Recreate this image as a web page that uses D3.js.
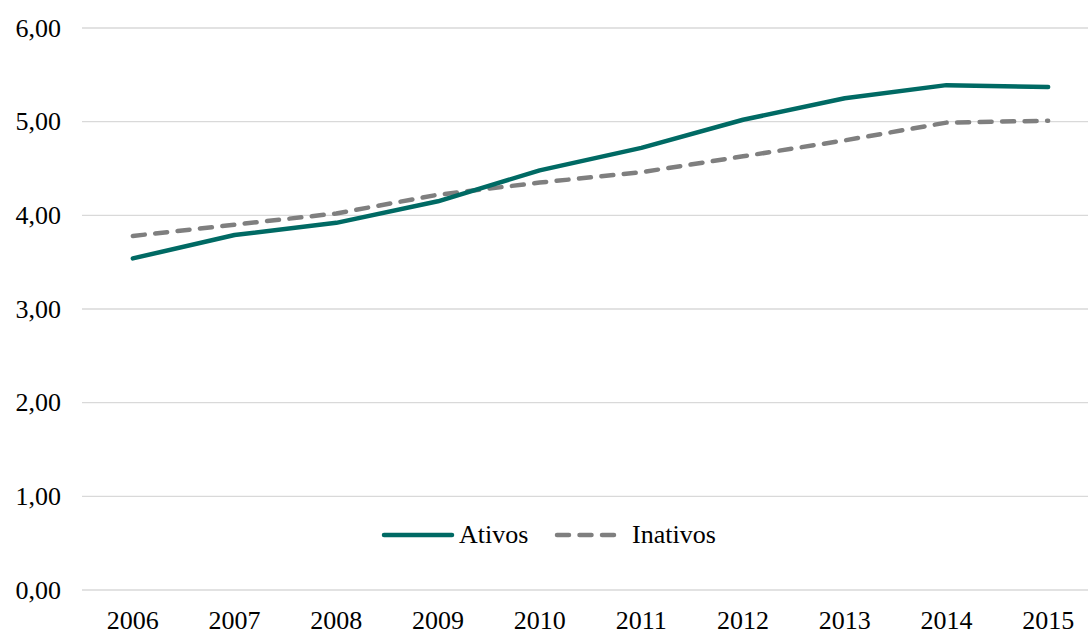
<!DOCTYPE html>
<html>
<head>
<meta charset="utf-8">
<script src="https://cdn.jsdelivr.net/npm/d3@7"></script>
<style>
  html, body { margin: 0; padding: 0; background: #fff; }
  svg { display: block; }
  text { font-family: "Liberation Serif", "Times New Roman", serif; fill: #000; }
</style>
</head>
<body>
<svg id="chart" width="1088" height="631"></svg>
<script>
// Series by year
const years = ["2006","2007","2008","2009","2010","2011","2012","2013","2014","2015"];
const ativos = [3.54, 3.79, 3.92, 4.15, 4.48, 4.72, 5.02, 5.25, 5.39, 5.37];
const inativos = [3.78, 3.90, 4.02, 4.22, 4.35, 4.46, 4.63, 4.80, 4.99, 5.01];
const yTicks = [0, 1, 2, 3, 4, 5, 6];
const seriesNames = ["Ativos", "Inativos"];

const W = 1088, H = 631;
const FS = 26;
const DASH = "12,10.5";
const svg = d3.select("#chart");

const x = d3.scaleBand().domain(years).range([82, 1099]);
const y = d3.scaleLinear().domain([0, 6]).range([590, 28]);
const cx = d => x(d) + x.bandwidth() / 2;
const fmt = v => d3.format(".2f")(v).replace(".", ",");

// Horizontal gridlines
svg.append("g")
  .selectAll("line")
  .data(yTicks)
  .join("line")
  .attr("x1", 82).attr("x2", W)
  .attr("y1", d => y(d)).attr("y2", d => y(d))
  .attr("stroke", "#d9d9d9").attr("stroke-width", 1.3);

// Y axis labels
const yAxis = svg.append("g")
  .attr("transform", "translate(61,0)")
  .call(d3.axisLeft(y).tickValues(yTicks).tickFormat(fmt).tickSize(0).tickPadding(0));
yAxis.select(".domain").remove();
yAxis.selectAll("text").attr("font-size", FS).attr("dy", "0.32em")
  .style("font-family", '"Liberation Serif", serif').attr("fill", "#000");

// X axis labels
const xAxis = svg.append("g")
  .attr("transform", "translate(0,590)")
  .call(d3.axisBottom(x).tickSize(0).tickPadding(0));
xAxis.select(".domain").remove();
xAxis.selectAll("text").attr("font-size", FS).attr("y", 39).attr("dy", 0)
  .style("font-family", '"Liberation Serif", serif').attr("fill", "#000");

const line = d3.line().x((d, i) => cx(years[i])).y(d => y(d));

// Inativos (dashed grey)
svg.append("path")
  .datum(inativos)
  .attr("d", line)
  .attr("fill", "none")
  .attr("stroke", "#7f7f7f")
  .attr("stroke-width", 4.5)
  .attr("stroke-linecap", "round")
  .attr("stroke-linejoin", "round")
  .attr("stroke-dasharray", DASH);

// Ativos (solid teal)
svg.append("path")
  .datum(ativos)
  .attr("d", line)
  .attr("fill", "none")
  .attr("stroke", "#006a64")
  .attr("stroke-width", 4.5)
  .attr("stroke-linecap", "round")
  .attr("stroke-linejoin", "round");

// Legend
const legend = svg.append("g");
legend.append("line")
  .attr("x1", 384).attr("x2", 452).attr("y1", 535).attr("y2", 535)
  .attr("stroke", "#006a64").attr("stroke-width", 4.5).attr("stroke-linecap", "round");
legend.append("text").attr("x", 459).attr("y", 543).attr("font-size", FS).text(seriesNames[0]);
legend.append("line")
  .attr("x1", 557).attr("x2", 617).attr("y1", 535).attr("y2", 535)
  .attr("stroke", "#7f7f7f").attr("stroke-width", 4.5).attr("stroke-linecap", "round")
  .attr("stroke-dasharray", DASH);
legend.append("text").attr("x", 632).attr("y", 543).attr("font-size", FS).text(seriesNames[1]);
</script>
</body>
</html>
